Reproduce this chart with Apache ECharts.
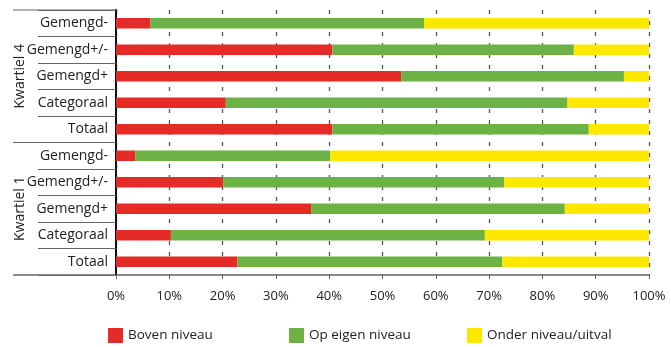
<!DOCTYPE html>
<html>
<head>
<meta charset="utf-8">
<script src="https://cdn.jsdelivr.net/npm/echarts@6/dist/echarts.min.js"></script>
<style>
html,body{margin:0;padding:0;background:#fff;}
#chart{width:671px;height:347px;}
</style>
</head>
<body>
<div id="chart"></div>
<script>
// Data
const groups = ['Kwartiel 4', 'Kwartiel 1'];
const categories = ['Gemengd-', 'Gemengd+/-', 'Gemengd+', 'Categoraal', 'Totaal'];
const seriesNames = ['Boven niveau', 'Op eigen niveau', 'Onder niveau/uitval'];
// values per row, top to bottom: Kwartiel 4 rows then Kwartiel 1 rows
const boven = [6.4, 40.6, 53.5, 20.6, 40.6, 3.6, 20.1, 36.6, 10.3, 22.8];
const opEigen = [51.4, 45.3, 41.8, 64.1, 48.1, 36.6, 52.7, 47.6, 58.9, 49.7];
const onder = [42.2, 14.1, 4.7, 15.3, 11.3, 59.8, 27.2, 15.8, 30.8, 27.5];
const xTicks = [0, 10, 20, 30, 40, 50, 60, 70, 80, 90, 100];

const colors = ['#e52b27', '#6db245', '#ffe800'];
const font = '"Open Sans", sans-serif';

const rowKeys = [];
groups.forEach(g => categories.forEach(c => rowKeys.push(g + '|' + c)));

const chart = echarts.init(document.getElementById('chart'));

const gridTop = 10, gridLeft = 116, gridRight = 22, gridBottom = 72;
const plotBottom = 347 - gridBottom;
const plotH = plotBottom - gridTop;

const legendLefts = [108, 289, 467];

chart.setOption({
  animation: false,
  backgroundColor: '#fff',
  textStyle: { fontFamily: font },
  grid: { left: gridLeft, right: gridRight, top: gridTop, bottom: gridBottom, containLabel: false },
  legend: seriesNames.map((n, i) => ({
    data: [n],
    left: legendLefts[i],
    top: 328,
    padding: 0,
    itemWidth: 15,
    itemHeight: 15,
    itemGap: 0,
    icon: 'rect',
    textStyle: { fontFamily: font, fontSize: 13.5, color: '#222', padding: [0, 0, 0, 0] },
    selectedMode: false
  })),
  xAxis: {
    type: 'value',
    min: xTicks[0],
    max: xTicks[xTicks.length - 1],
    interval: 10,
    axisLine: { show: true, lineStyle: { color: '#666', width: 1.5 } },
    axisTick: { show: true, length: 4, lineStyle: { color: '#666', width: 1 } },
    axisLabel: { formatter: '{value}%', fontFamily: font, fontSize: 13, color: '#222', margin: 15 },
    splitLine: { show: true, lineStyle: { color: '#555', type: [4, 7], width: 1.3 } }
  },
  yAxis: {
    type: 'category',
    inverse: true,
    data: rowKeys,
    axisLine: { show: true, lineStyle: { color: '#111', width: 2 } },
    axisTick: { show: true, length: 78, alignWithLabel: false, lineStyle: { color: '#666', width: 1.2 } },
    axisLabel: {
      formatter: v => v.split('|')[1],
      fontFamily: font, fontSize: 14, color: '#222', margin: 8
    },
    splitLine: { show: false }
  },
  series: [boven, opEigen, onder].map((d, i) => ({
    name: seriesNames[i],
    type: 'bar',
    stack: 'total',
    barWidth: 10.5,
    itemStyle: { color: colors[i] },
    data: d
  })),
  graphic: [
    { type: 'line', shape: { x1: 13, y1: gridTop, x2: gridLeft, y2: gridTop }, style: { stroke: '#666', lineWidth: 1.2 } },
    { type: 'line', shape: { x1: 13, y1: gridTop + plotH / 2, x2: gridLeft, y2: gridTop + plotH / 2 }, style: { stroke: '#666', lineWidth: 1.2 } },
    { type: 'line', shape: { x1: 13, y1: plotBottom, x2: gridLeft, y2: plotBottom }, style: { stroke: '#666', lineWidth: 1.5 } },
    { type: 'text', x: 20, y: gridTop + plotH / 4, rotation: Math.PI / 2,
      style: { text: groups[0], font: '14px ' + font, fill: '#222', align: 'center', verticalAlign: 'middle' } },
    { type: 'text', x: 20, y: gridTop + plotH * 3 / 4, rotation: Math.PI / 2,
      style: { text: groups[1], font: '14px ' + font, fill: '#222', align: 'center', verticalAlign: 'middle' } }
  ]
});
</script>
</body>
</html>
